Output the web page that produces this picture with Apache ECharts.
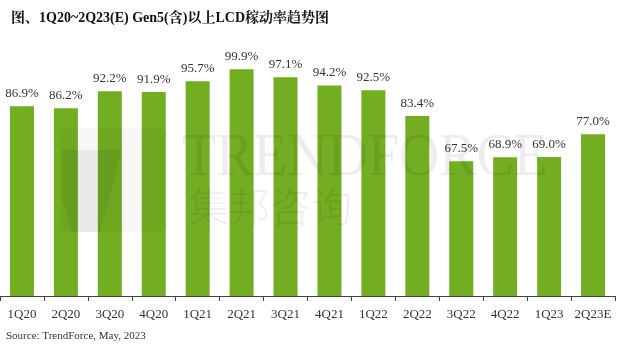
<!DOCTYPE html>
<html>
<head>
<meta charset="UTF-8">
<title>Gen5 LCD</title>
<style>
  html,body{margin:0;padding:0;background:#fff;}
  #main{width:618px;height:354px;}
</style>
<script src="https://cdn.jsdelivr.net/npm/echarts@6/dist/echarts.min.js"></script>
</head>
<body>
<div id="main"></div>
<script>
var quarters = ['1Q20','2Q20','3Q20','4Q20','1Q21','2Q21','3Q21','4Q21','1Q22','2Q22','3Q22','4Q22','1Q23','2Q23E'];
var rates = [86.9, 86.2, 92.2, 91.9, 95.7, 99.9, 97.1, 94.2, 92.5, 83.4, 67.5, 68.9, 69.0, 77.0];

var serif = '"Liberation Serif","Noto Serif CJK SC","Noto Sans CJK SC",serif';

var myChart = echarts.init(document.getElementById('main'));
var option = {
    animation: false,
    title: {
        text: '图、1Q20~2Q23(E) Gen5(含)以上LCD稼动率趋势图',
        left: 6, top: 6,
        textStyle: {fontFamily: serif, fontSize: 14, fontWeight: 'bold', color: '#111'}
    },
    graphic: [
        // faint TrendForce watermark laid over the bars
        {type: 'rect', left: 60, top: 128, shape: {width: 108, height: 104, r: 8},
         style: {fill: 'rgba(0,0,0,0.03)'}, z: 100},
        {type: 'polygon', shape: {points: [[62, 150], [122, 150], [100, 232], [72, 232], [62, 200]]},
         style: {fill: 'rgba(0,0,0,0.06)'}, z: 100},
        {type: 'text', x: 182, y: 128, scaleX: 0.9,
         style: {text: 'TRENDFORCE', fontFamily: serif, fontSize: 62, fill: 'rgba(0,0,0,0.07)'}, z: 100},
        {type: 'text', x: 188, y: 186,
         style: {text: '集邦咨询', fontFamily: '"Noto Sans CJK SC"', fontWeight: 300, fontSize: 41, fill: 'rgba(0,0,0,0.07)'}, z: 100},
        {type: 'text', left: 6, top: 331,
         style: {text: 'Source: TrendForce, May, 2023', fontFamily: serif, fontSize: 11, fill: '#333'}}
    ],
    grid: {left: 0, right: 3, top: 69, bottom: 58},
    xAxis: {
        type: 'category',
        data: quarters,
        axisLine: {lineStyle: {color: '#444', width: 1}},
        axisTick: {show: true, length: 5, lineStyle: {color: '#444'}},
        axisLabel: {color: '#333', fontFamily: serif, fontSize: 13, margin: 12, interval: 0}
    },
    yAxis: {
        type: 'value', min: 20, max: 100, show: false,
        splitLine: {show: false}
    },
    series: [{
        type: 'bar',
        data: rates,
        barWidth: 24,
        itemStyle: {color: '#72ad22'},
        label: {
            show: true, position: 'top', distance: 6,
            formatter: function (p) { return p.value.toFixed(1) + '%'; },
            fontFamily: serif, fontSize: 13, color: '#333'
        }
    }]
};
myChart.setOption(option);
</script>
</body>
</html>
